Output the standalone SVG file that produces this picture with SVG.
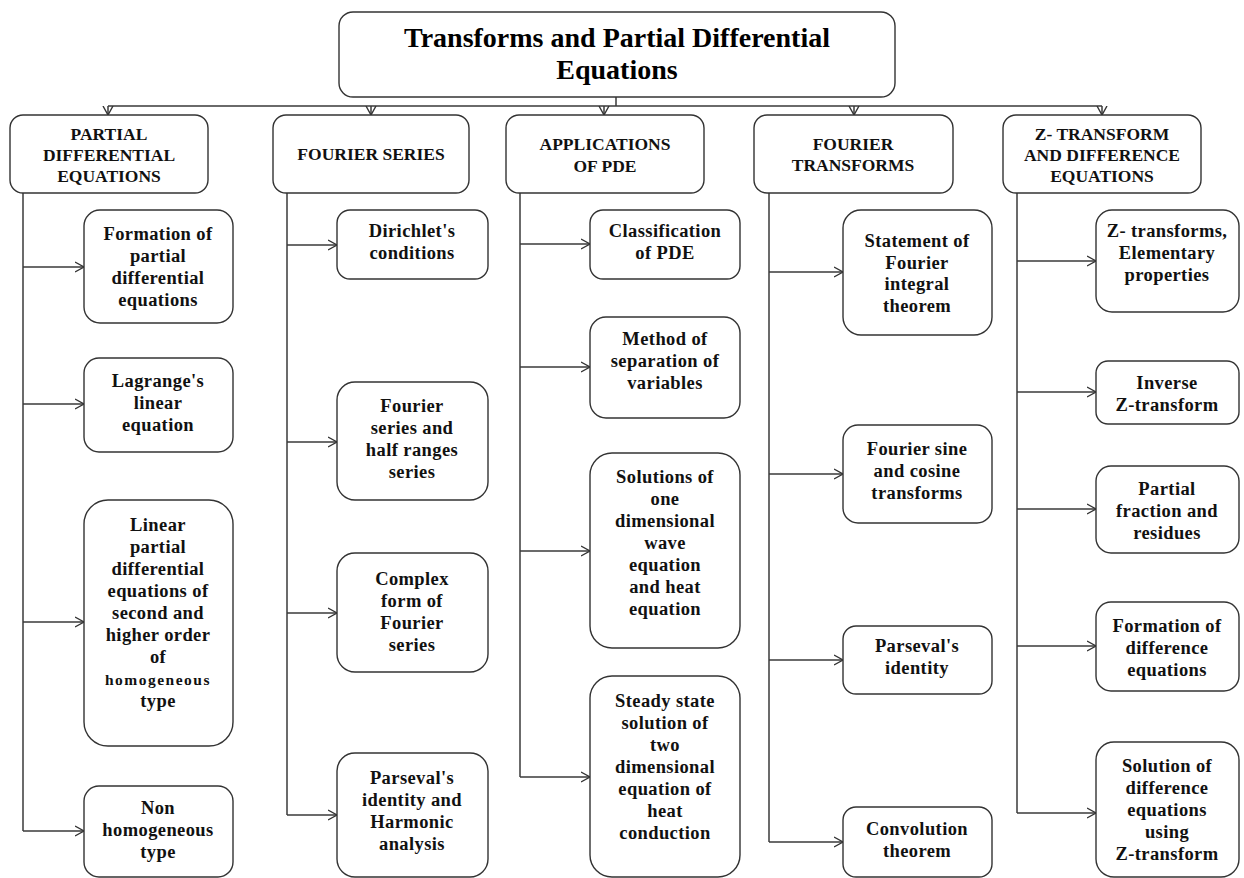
<svg xmlns="http://www.w3.org/2000/svg" width="1244" height="878" viewBox="0 0 1244 878">
  <defs>
    <marker id="chev" markerWidth="10" markerHeight="12" viewBox="0 0 10 12" refX="9" refY="6" orient="auto" markerUnits="userSpaceOnUse">
      <path d="M0,1 L9,6 L0,11" fill="none" stroke="#333" stroke-width="1.4"/>
    </marker>
  </defs>
  <style>
    .box { fill: #fff; stroke: #333; stroke-width: 1.4; }
    .ln { fill: none; stroke: #3a3a3a; stroke-width: 1.5; }
    .arr { fill: none; stroke: #3a3a3a; stroke-width: 1.5; marker-end: url(#chev); }
    .title { font-family: "Liberation Serif", "Times New Roman", serif; font-weight: bold; font-size: 28px; fill: #000; text-anchor: middle; }
    .hd { font-family: "Liberation Serif", "Times New Roman", serif; font-weight: bold; font-size: 17.5px; fill: #111; text-anchor: middle; }
    .nd { font-family: "Liberation Serif", "Times New Roman", serif; font-weight: bold; font-size: 18.5px; letter-spacing: 0.4px; fill: #111; text-anchor: middle; }
    .sm { font-size: 15.5px; letter-spacing: 1.5px; }
  </style>
  <rect width="1244" height="878" fill="#fff"/>

  <!-- connectors -->
  <g id="connectors">
    <path class="ln" d="M616,97 V106 M108,106 H1102"/>
    <path class="arr" d="M108,106 V115"/>
    <path class="arr" d="M371,106 V115"/>
    <path class="arr" d="M604,106 V115"/>
    <path class="arr" d="M854,106 V115"/>
    <path class="arr" d="M1102,106 V115"/>

    <!-- column 1 -->
    <path class="ln" d="M23,193 V831"/>
    <path class="arr" d="M23,267 H84"/>
    <path class="arr" d="M23,404 H84"/>
    <path class="arr" d="M23,622 H84"/>
    <path class="arr" d="M23,831 H84"/>

    <!-- column 2 -->
    <path class="ln" d="M287,193 V815"/>
    <path class="arr" d="M287,245 H337"/>
    <path class="arr" d="M287,442 H337"/>
    <path class="arr" d="M287,613 H337"/>
    <path class="arr" d="M287,815 H337"/>

    <!-- column 3 -->
    <path class="ln" d="M520,193 V777"/>
    <path class="arr" d="M520,244 H590"/>
    <path class="arr" d="M520,367 H590"/>
    <path class="arr" d="M520,551 H590"/>
    <path class="arr" d="M520,777 H590"/>

    <!-- column 4 -->
    <path class="ln" d="M769,193 V842"/>
    <path class="arr" d="M769,272 H843"/>
    <path class="arr" d="M769,474 H843"/>
    <path class="arr" d="M769,660 H843"/>
    <path class="arr" d="M769,842 H843"/>

    <!-- column 5 -->
    <path class="ln" d="M1017,193 V813"/>
    <path class="arr" d="M1017,261 H1096"/>
    <path class="arr" d="M1017,392 H1096"/>
    <path class="arr" d="M1017,509 H1096"/>
    <path class="arr" d="M1017,646 H1096"/>
    <path class="arr" d="M1017,813 H1096"/>
  </g>

  <!-- root -->
  <g id="root">
    <rect class="box" x="339" y="12" width="556" height="85" rx="14"/>
    <text class="title" x="617" y="47">Transforms and Partial Differential</text>
    <text class="title" x="617" y="79">Equations</text>
  </g>

  <!-- column headers -->
  <g id="h-pde">
    <rect class="box" x="10" y="115" width="198" height="78" rx="13"/>
    <text class="hd" x="109" y="140">PARTIAL<tspan x="109" dy="21">DIFFERENTIAL</tspan><tspan x="109" dy="21">EQUATIONS</tspan></text>
  </g>
  <g id="h-fs">
    <rect class="box" x="273" y="115" width="196" height="78" rx="13"/>
    <text class="hd" x="371" y="160">FOURIER SERIES</text>
  </g>
  <g id="h-app">
    <rect class="box" x="506" y="115" width="198" height="78" rx="13"/>
    <text class="hd" x="605" y="150">APPLICATIONS<tspan x="605" dy="22">OF PDE</tspan></text>
  </g>
  <g id="h-ft">
    <rect class="box" x="754" y="115" width="199" height="78" rx="13"/>
    <text class="hd" x="853" y="150">FOURIER<tspan x="853" dy="21">TRANSFORMS</tspan></text>
  </g>
  <g id="h-z">
    <rect class="box" x="1003" y="115" width="198" height="78" rx="13"/>
    <text class="hd" x="1102" y="140">Z- TRANSFORM<tspan x="1102" dy="21">AND DIFFERENCE</tspan><tspan x="1102" dy="21">EQUATIONS</tspan></text>
  </g>

  <!-- column 1: partial differential equations -->
  <g id="n-formation-pde">
    <rect class="box" x="84" y="210" width="149" height="113" rx="16"/>
    <text class="nd" x="158" y="240">Formation of<tspan x="158" dy="22">partial</tspan><tspan x="158" dy="22">differential</tspan><tspan x="158" dy="22">equations</tspan></text>
  </g>
  <g id="n-lagrange">
    <rect class="box" x="84" y="358" width="149" height="94" rx="15"/>
    <text class="nd" x="158" y="387">Lagrange's<tspan x="158" dy="22">linear</tspan><tspan x="158" dy="22">equation</tspan></text>
  </g>
  <g id="n-linear-higher">
    <rect class="box" x="84" y="500" width="149" height="246" rx="24"/>
    <text class="nd" x="158" y="531">Linear<tspan x="158" dy="22">partial</tspan><tspan x="158" dy="22">differential</tspan><tspan x="158" dy="22">equations of</tspan><tspan x="158" dy="22">second and</tspan><tspan x="158" dy="22">higher order</tspan><tspan x="158" dy="22">of</tspan><tspan class="sm" x="158" dy="22">homogeneous</tspan><tspan x="158" dy="22">type</tspan></text>
  </g>
  <g id="n-non-homogeneous">
    <rect class="box" x="84" y="786" width="149" height="91" rx="15"/>
    <text class="nd" x="158" y="814">Non<tspan x="158" dy="22">homogeneous</tspan><tspan x="158" dy="22">type</tspan></text>
  </g>

  <!-- column 2: fourier series -->
  <g id="n-dirichlet">
    <rect class="box" x="337" y="210" width="151" height="69" rx="13"/>
    <text class="nd" x="412" y="237">Dirichlet's<tspan x="412" dy="22">conditions</tspan></text>
  </g>
  <g id="n-half-range">
    <rect class="box" x="337" y="382" width="151" height="118" rx="18"/>
    <text class="nd" x="412" y="412">Fourier<tspan x="412" dy="22">series and</tspan><tspan x="412" dy="22">half ranges</tspan><tspan x="412" dy="22">series</tspan></text>
  </g>
  <g id="n-complex">
    <rect class="box" x="337" y="553" width="151" height="119" rx="18"/>
    <text class="nd" x="412" y="585">Complex<tspan x="412" dy="22">form of</tspan><tspan x="412" dy="22">Fourier</tspan><tspan x="412" dy="22">series</tspan></text>
  </g>
  <g id="n-parseval-harmonic">
    <rect class="box" x="337" y="753" width="151" height="124" rx="18"/>
    <text class="nd" x="412" y="784">Parseval's<tspan x="412" dy="22">identity  and</tspan><tspan x="412" dy="22">Harmonic</tspan><tspan x="412" dy="22">analysis</tspan></text>
  </g>

  <!-- column 3: applications of PDE -->
  <g id="n-classification">
    <rect class="box" x="590" y="210" width="150" height="69" rx="13"/>
    <text class="nd" x="665" y="237">Classification<tspan x="665" dy="22">of PDE</tspan></text>
  </g>
  <g id="n-separation">
    <rect class="box" x="590" y="317" width="150" height="101" rx="16"/>
    <text class="nd" x="665" y="345">Method of<tspan x="665" dy="22">separation of</tspan><tspan x="665" dy="22">variables</tspan></text>
  </g>
  <g id="n-wave-heat">
    <rect class="box" x="590" y="453" width="150" height="195" rx="22"/>
    <text class="nd" x="665" y="483">Solutions of<tspan x="665" dy="22">one</tspan><tspan x="665" dy="22">dimensional</tspan><tspan x="665" dy="22">wave</tspan><tspan x="665" dy="22">equation</tspan><tspan x="665" dy="22">and heat</tspan><tspan x="665" dy="22">equation</tspan></text>
  </g>
  <g id="n-steady-state">
    <rect class="box" x="590" y="676" width="150" height="201" rx="22"/>
    <text class="nd" x="665" y="707">Steady state<tspan x="665" dy="22">solution of</tspan><tspan x="665" dy="22">two</tspan><tspan x="665" dy="22">dimensional</tspan><tspan x="665" dy="22">equation of</tspan><tspan x="665" dy="22">heat</tspan><tspan x="665" dy="22">conduction</tspan></text>
  </g>

  <!-- column 4: fourier transforms -->
  <g id="n-integral-theorem">
    <rect class="box" x="843" y="210" width="149" height="125" rx="18"/>
    <text class="nd" x="917" y="247">Statement of<tspan x="917" dy="21.5">Fourier</tspan><tspan x="917" dy="21.5">integral</tspan><tspan x="917" dy="21.5">theorem</tspan></text>
  </g>
  <g id="n-sine-cosine">
    <rect class="box" x="843" y="425" width="149" height="98" rx="15"/>
    <text class="nd" x="917" y="455">Fourier sine<tspan x="917" dy="22">and cosine</tspan><tspan x="917" dy="22">transforms</tspan></text>
  </g>
  <g id="n-parseval">
    <rect class="box" x="843" y="626" width="149" height="68" rx="13"/>
    <text class="nd" x="917" y="652">Parseval's<tspan x="917" dy="22">identity</tspan></text>
  </g>
  <g id="n-convolution">
    <rect class="box" x="843" y="807" width="149" height="70" rx="13"/>
    <text class="nd" x="917" y="835">Convolution<tspan x="917" dy="22">theorem</tspan></text>
  </g>

  <!-- column 5: z-transform and difference equations -->
  <g id="n-z-properties">
    <rect class="box" x="1096" y="210" width="143" height="102" rx="16"/>
    <text class="nd" x="1167" y="237">Z- transforms,<tspan x="1167" dy="22">Elementary</tspan><tspan x="1167" dy="22">properties</tspan></text>
  </g>
  <g id="n-inverse-z">
    <rect class="box" x="1096" y="361" width="143" height="63" rx="12"/>
    <text class="nd" x="1167" y="389">Inverse<tspan x="1167" dy="22">Z-transform</tspan></text>
  </g>
  <g id="n-partial-fraction">
    <rect class="box" x="1096" y="466" width="143" height="87" rx="15"/>
    <text class="nd" x="1167" y="495">Partial<tspan x="1167" dy="22">fraction and</tspan><tspan x="1167" dy="22">residues</tspan></text>
  </g>
  <g id="n-difference-formation">
    <rect class="box" x="1096" y="602" width="143" height="89" rx="15"/>
    <text class="nd" x="1167" y="632">Formation of<tspan x="1167" dy="22">difference</tspan><tspan x="1167" dy="22">equations</tspan></text>
  </g>
  <g id="n-difference-solution">
    <rect class="box" x="1096" y="742" width="143" height="135" rx="18"/>
    <text class="nd" x="1167" y="772">Solution of<tspan x="1167" dy="22">difference</tspan><tspan x="1167" dy="22">equations</tspan><tspan x="1167" dy="22">using</tspan><tspan x="1167" dy="22">Z-transform</tspan></text>
  </g>
</svg>
